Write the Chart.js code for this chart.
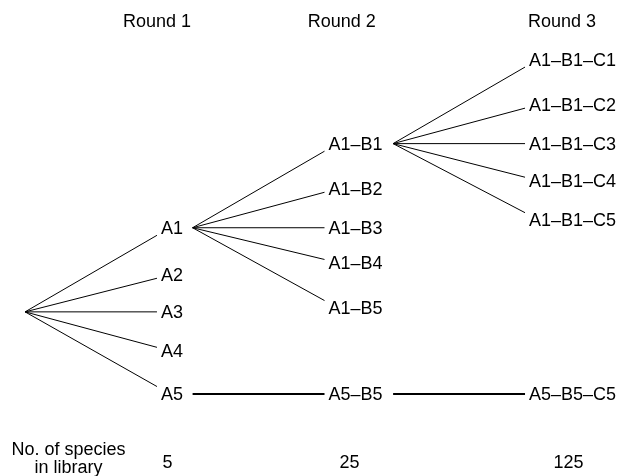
<!DOCTYPE html>
<html>
<head>
<meta charset="utf-8">
<script src="https://cdn.jsdelivr.net/npm/chart.js@4.4.1/dist/chart.umd.min.js"></script>
<style>
    html, body { margin: 0; padding: 0; background: #fff; }
</style>
</head>
<body>
<canvas id="arbolChart" width="620" height="476"></canvas>
<script>
// Nodos del arbol (el primero es la raiz, sin etiqueta)
const etiquetas = ['', 'A1', 'A2', 'A3', 'A4', 'A5',
    'A1–B1', 'A1–B2', 'A1–B3', 'A1–B4', 'A1–B5', 'A5–B5',
    'A1–B1–C1', 'A1–B1–C2', 'A1–B1–C3', 'A1–B1–C4', 'A1–B1–C5', 'A5–B5–C5'];
const nivel = [0, 1, 1, 1, 1, 1, 2, 2, 2, 2, 2, 2, 3, 3, 3, 3, 3, 3];
const padre = [-1, 0, 0, 0, 0, 0, 1, 1, 1, 1, 1, 5, 6, 6, 6, 6, 6, 11];
const fila = [0, 2.05, 0.9, 0, -0.95, -2,
    4.1, 3.0, 2.05, 1.2, 0.1, -2,
    6.15, 5.05, 4.1, 3.2, 2.25, -2];

// Posicion de cada ronda: donde llegan las ramas y donde salen
const entradaX = [0, 1.0, 2.27, 3.79];
const salidaX = [0, 1.27, 2.79, null];

// Encabezados y pie
const rondas = ['Round 1', 'Round 2', 'Round 3'];
const rondasX = [1.0, 2.4, 4.07];
const rondasFila = 7.1;
const especies = ['5', '25', '125'];
const especiesX = [1.08, 2.46, 4.12];
const especiesFila = -3.68;
const tituloEspecies = ['No. of species', 'in library'];
const tituloX = 0.33;
const tituloFilas = [-3.37, -3.81];

const fuente = '18px "Liberation Sans", Arial, Helvetica, sans-serif';

// numero de hijos por nodo, las ramas unicas se dibujan gruesas
const hijos = etiquetas.map((_, i) => padre.filter(p => p === i).length);

const datasets = [];
etiquetas.forEach((et, i) => {
    const p = padre[i];
    if (p < 0) return;
    const unica = hijos[p] === 1;
    // la rama termina un poco hacia el padre, como en el original
    const finY = fila[i] + (fila[p] - fila[i]) * 0.09;
    datasets.push({
        label: et,
        data: [
            { x: salidaX[nivel[p]], y: fila[p] },
            { x: entradaX[nivel[i]], y: finY }
        ],
        showLine: true,
        borderColor: '#000',
        borderWidth: unica ? 2 : 1,
        pointRadius: 0,
        fill: false
    });
});

const textosPlugin = {
    id: 'textos',
    afterDatasetsDraw(chart) {
        const ctx = chart.ctx;
        const x = chart.scales.x;
        const y = chart.scales.y;
        const bajar = 1.5; // el texto queda un poco mas abajo que la rama
        ctx.save();
        ctx.font = fuente;
        ctx.fillStyle = '#000';
        ctx.textBaseline = 'middle';

        ctx.textAlign = 'left';
        etiquetas.forEach((et, i) => {
            if (!et) return;
            ctx.fillText(et, x.getPixelForValue(entradaX[nivel[i]]) + 4, y.getPixelForValue(fila[i]) + bajar);
        });

        ctx.textAlign = 'center';
        rondas.forEach((r, i) => {
            ctx.fillText(r, x.getPixelForValue(rondasX[i]), y.getPixelForValue(rondasFila) + bajar);
        });
        especies.forEach((n, i) => {
            ctx.fillText(n, x.getPixelForValue(especiesX[i]), y.getPixelForValue(especiesFila));
        });
        tituloEspecies.forEach((t, i) => {
            ctx.fillText(t, x.getPixelForValue(tituloX), y.getPixelForValue(tituloFilas[i]));
        });
        ctx.restore();
    }
};

new Chart(document.getElementById('arbolChart'), {
    type: 'scatter',
    data: { datasets: datasets },
    options: {
        responsive: false,
        animation: false,
        layout: { padding: 0 },
        plugins: {
            legend: { display: false },
            tooltip: { enabled: false }
        },
        scales: {
            x: { type: 'linear', min: -0.19, max: 4.51, display: false },
            y: { type: 'linear', min: -4.0, max: 7.6, display: false }
        }
    },
    plugins: [textosPlugin]
});
</script>
</body>
</html>
